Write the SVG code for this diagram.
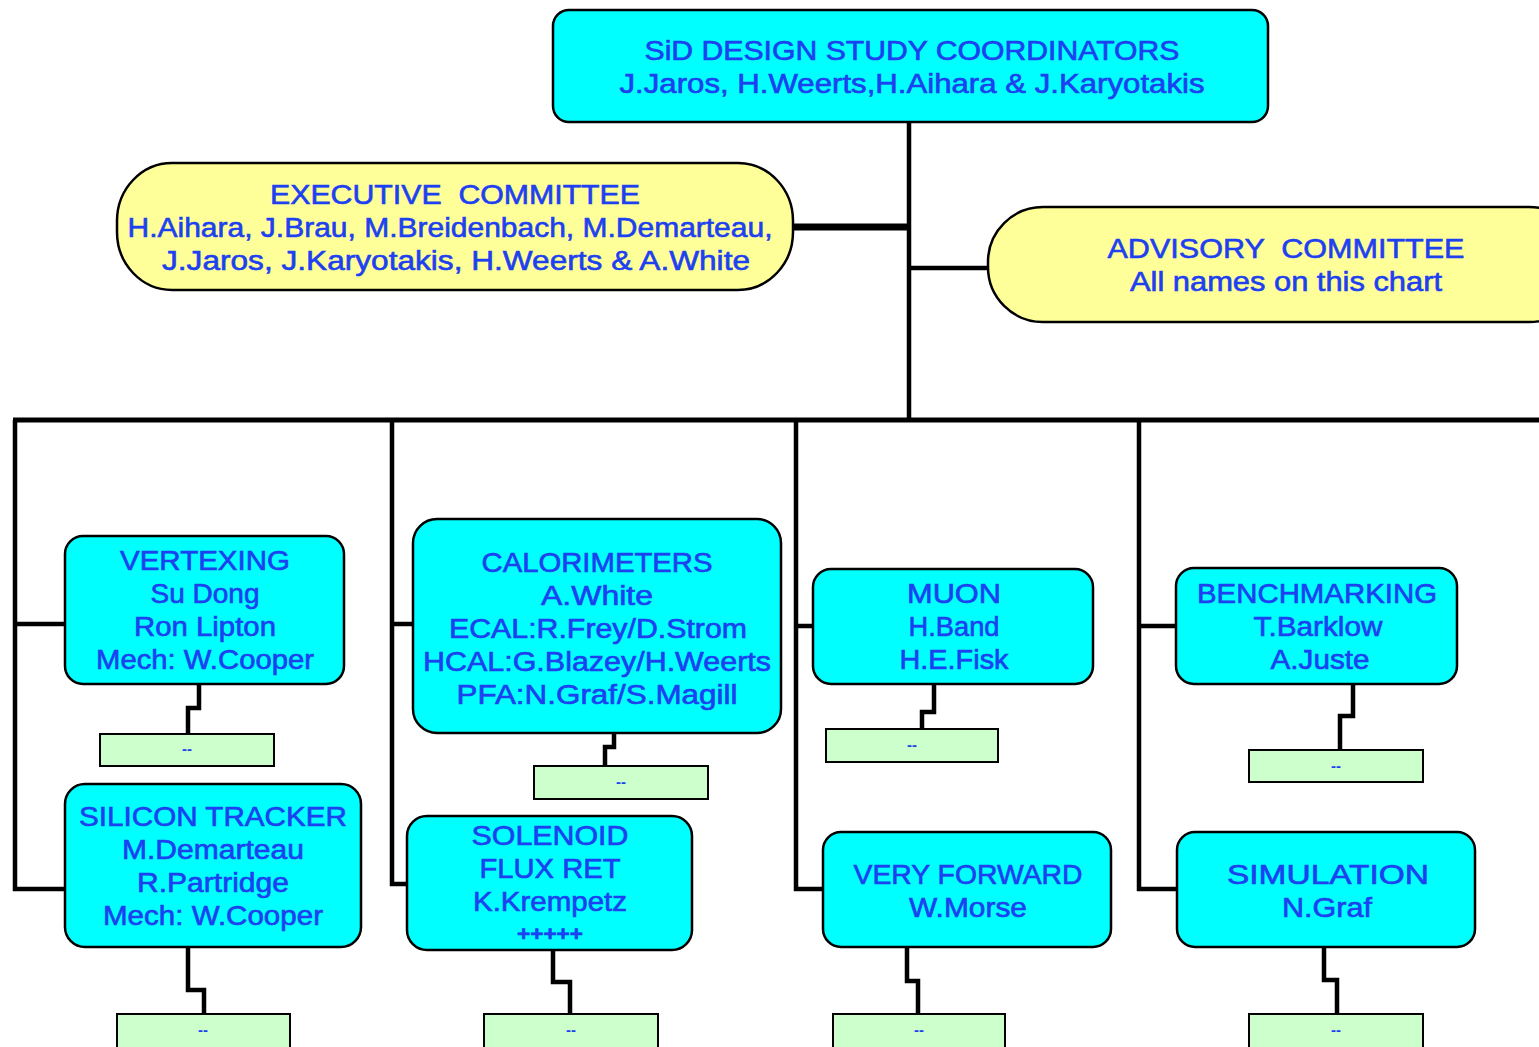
<svg xmlns="http://www.w3.org/2000/svg" width="1539" height="1047" viewBox="0 0 1539 1047">
<style>
.t{font-family:"Liberation Sans",Arial,sans-serif;font-size:27px;fill:#1d40f0;stroke:#1d40f0;stroke-width:0.6;text-anchor:middle;white-space:pre}
.s{font-family:"Liberation Sans",Arial,sans-serif;font-size:15px;font-weight:bold;fill:#1d40f0;text-anchor:middle}
.c{fill:#00ffff;stroke:#000;stroke-width:2.5}
.y{fill:#ffff99;stroke:#000;stroke-width:2.5}
.g{fill:#ccffcc;stroke:#000;stroke-width:2}
.l{fill:none;stroke:#000;stroke-width:4.5;stroke-linejoin:miter}
</style>
<rect width="1539" height="1047" fill="#fff"/>
<g id="connectors">
<path class="l" d="M909,122 V421"/>
<path class="l" d="M793,227 H909" style="stroke-width:7"/>
<path class="l" d="M909,268 H988"/>
<path class="l" d="M13,420 H1539" style="stroke-width:5"/>
<path class="l" d="M15,420 V889 H65"/>
<path class="l" d="M15,624 H65"/>
<path class="l" d="M392,420 V884 H407"/>
<path class="l" d="M392,624 H413"/>
<path class="l" d="M796,420 V889 H823"/>
<path class="l" d="M796,626 H813"/>
<path class="l" d="M1139,420 V889 H1177"/>
<path class="l" d="M1139,626 H1176"/>
<path class="l" d="M199,684 V708 H188 V734"/>
<path class="l" d="M188,947 V990 H204 V1014"/>
<path class="l" d="M614,733 V747 H605 V766"/>
<path class="l" d="M553,950 V982 H570 V1014"/>
<path class="l" d="M934,684 V712 H922 V729"/>
<path class="l" d="M907,947 V981 H918 V1014"/>
<path class="l" d="M1353,684 V716 H1340 V750"/>
<path class="l" d="M1324,948 V980 H1337 V1014"/>
</g>
<g id="coordinators">
<rect class="c" x="553" y="10" width="715" height="112" rx="16"/>
<text class="t" x="912" y="60" textLength="535" lengthAdjust="spacingAndGlyphs">SiD DESIGN STUDY COORDINATORS</text>
<text class="t" x="912" y="93" textLength="585" lengthAdjust="spacingAndGlyphs">J.Jaros, H.Weerts,H.Aihara &amp; J.Karyotakis</text>
</g>
<g id="executive">
<rect class="y" x="117" y="163" width="676" height="127" rx="55" ry="58"/>
<text class="t" x="455" y="204" textLength="370" lengthAdjust="spacingAndGlyphs">EXECUTIVE  COMMITTEE</text>
<text class="t" x="450" y="237" textLength="645" lengthAdjust="spacingAndGlyphs">H.Aihara, J.Brau, M.Breidenbach, M.Demarteau,</text>
<text class="t" x="456" y="270" textLength="588" lengthAdjust="spacingAndGlyphs">J.Jaros, J.Karyotakis, H.Weerts &amp; A.White</text>
</g>
<g id="advisory">
<rect class="y" x="988" y="207" width="596" height="115" rx="55" ry="55"/>
<text class="t" x="1286" y="258" textLength="357" lengthAdjust="spacingAndGlyphs">ADVISORY  COMMITTEE</text>
<text class="t" x="1286" y="291" textLength="312" lengthAdjust="spacingAndGlyphs">All names on this chart</text>
</g>
<g id="vertexing">
<rect class="c" x="65" y="536" width="279" height="148" rx="18"/>
<text class="t" x="205" y="570" textLength="170" lengthAdjust="spacingAndGlyphs">VERTEXING</text>
<text class="t" x="205" y="603" textLength="109" lengthAdjust="spacingAndGlyphs">Su Dong</text>
<text class="t" x="205" y="636" textLength="142" lengthAdjust="spacingAndGlyphs">Ron Lipton</text>
<text class="t" x="205" y="669" textLength="218" lengthAdjust="spacingAndGlyphs">Mech: W.Cooper</text>
</g>
<g id="vertexing-sub">
<rect class="g" x="100" y="734" width="174" height="32"/>
<text class="s" x="187" y="754">--</text>
</g>
<g id="silicon-tracker">
<rect class="c" x="65" y="784" width="296" height="163" rx="20"/>
<text class="t" x="213" y="826" textLength="268" lengthAdjust="spacingAndGlyphs">SILICON TRACKER</text>
<text class="t" x="213" y="859" textLength="182" lengthAdjust="spacingAndGlyphs">M.Demarteau</text>
<text class="t" x="213" y="892" textLength="152" lengthAdjust="spacingAndGlyphs">R.Partridge</text>
<text class="t" x="213" y="925" textLength="220" lengthAdjust="spacingAndGlyphs">Mech: W.Cooper</text>
</g>
<g id="silicon-sub">
<rect class="g" x="117" y="1014" width="173" height="34"/>
<text class="s" x="203" y="1035">--</text>
</g>
<g id="calorimeters">
<rect class="c" x="413" y="519" width="368" height="214" rx="24"/>
<text class="t" x="597" y="572" textLength="231" lengthAdjust="spacingAndGlyphs">CALORIMETERS</text>
<text class="t" x="597" y="605" textLength="112" lengthAdjust="spacingAndGlyphs">A.White</text>
<text class="t" x="598" y="638" textLength="298" lengthAdjust="spacingAndGlyphs">ECAL:R.Frey/D.Strom</text>
<text class="t" x="597" y="671" textLength="348" lengthAdjust="spacingAndGlyphs">HCAL:G.Blazey/H.Weerts</text>
<text class="t" x="597" y="704" textLength="281" lengthAdjust="spacingAndGlyphs">PFA:N.Graf/S.Magill</text>
</g>
<g id="calorimeters-sub">
<rect class="g" x="534" y="766" width="174" height="33"/>
<text class="s" x="621" y="787">--</text>
</g>
<g id="solenoid">
<rect class="c" x="407" y="816" width="285" height="134" rx="20"/>
<text class="t" x="550" y="845" textLength="157" lengthAdjust="spacingAndGlyphs">SOLENOID</text>
<text class="t" x="550" y="878" textLength="141" lengthAdjust="spacingAndGlyphs">FLUX RET</text>
<text class="t" x="550" y="911" textLength="154" lengthAdjust="spacingAndGlyphs">K.Krempetz</text>
<text class="t" x="550" y="941" textLength="66" lengthAdjust="spacingAndGlyphs" style="font-size:20px;font-weight:bold">+++++</text>
</g>
<g id="solenoid-sub">
<rect class="g" x="484" y="1014" width="174" height="34"/>
<text class="s" x="571" y="1035">--</text>
</g>
<g id="muon">
<rect class="c" x="813" y="569" width="280" height="115" rx="18"/>
<text class="t" x="954" y="603" textLength="94" lengthAdjust="spacingAndGlyphs">MUON</text>
<text class="t" x="954" y="636" textLength="91" lengthAdjust="spacingAndGlyphs">H.Band</text>
<text class="t" x="954" y="669" textLength="109" lengthAdjust="spacingAndGlyphs">H.E.Fisk</text>
</g>
<g id="muon-sub">
<rect class="g" x="826" y="729" width="172" height="33"/>
<text class="s" x="912" y="750">--</text>
</g>
<g id="very-forward">
<rect class="c" x="823" y="832" width="288" height="115" rx="18"/>
<text class="t" x="968" y="884" textLength="229" lengthAdjust="spacingAndGlyphs">VERY FORWARD</text>
<text class="t" x="968" y="917" textLength="118" lengthAdjust="spacingAndGlyphs">W.Morse</text>
</g>
<g id="very-forward-sub">
<rect class="g" x="833" y="1014" width="172" height="34"/>
<text class="s" x="919" y="1035">--</text>
</g>
<g id="benchmarking">
<rect class="c" x="1176" y="568" width="281" height="116" rx="18"/>
<text class="t" x="1317" y="603" textLength="240" lengthAdjust="spacingAndGlyphs">BENCHMARKING</text>
<text class="t" x="1318" y="636" textLength="129" lengthAdjust="spacingAndGlyphs">T.Barklow</text>
<text class="t" x="1320" y="669" textLength="99" lengthAdjust="spacingAndGlyphs">A.Juste</text>
</g>
<g id="benchmarking-sub">
<rect class="g" x="1249" y="750" width="174" height="32"/>
<text class="s" x="1336" y="771">--</text>
</g>
<g id="simulation">
<rect class="c" x="1177" y="832" width="298" height="115" rx="18"/>
<text class="t" x="1328" y="884" textLength="202" lengthAdjust="spacingAndGlyphs">SIMULATION</text>
<text class="t" x="1327" y="917" textLength="90" lengthAdjust="spacingAndGlyphs">N.Graf</text>
</g>
<g id="simulation-sub">
<rect class="g" x="1249" y="1014" width="174" height="34"/>
<text class="s" x="1336" y="1035">--</text>
</g>
</svg>
